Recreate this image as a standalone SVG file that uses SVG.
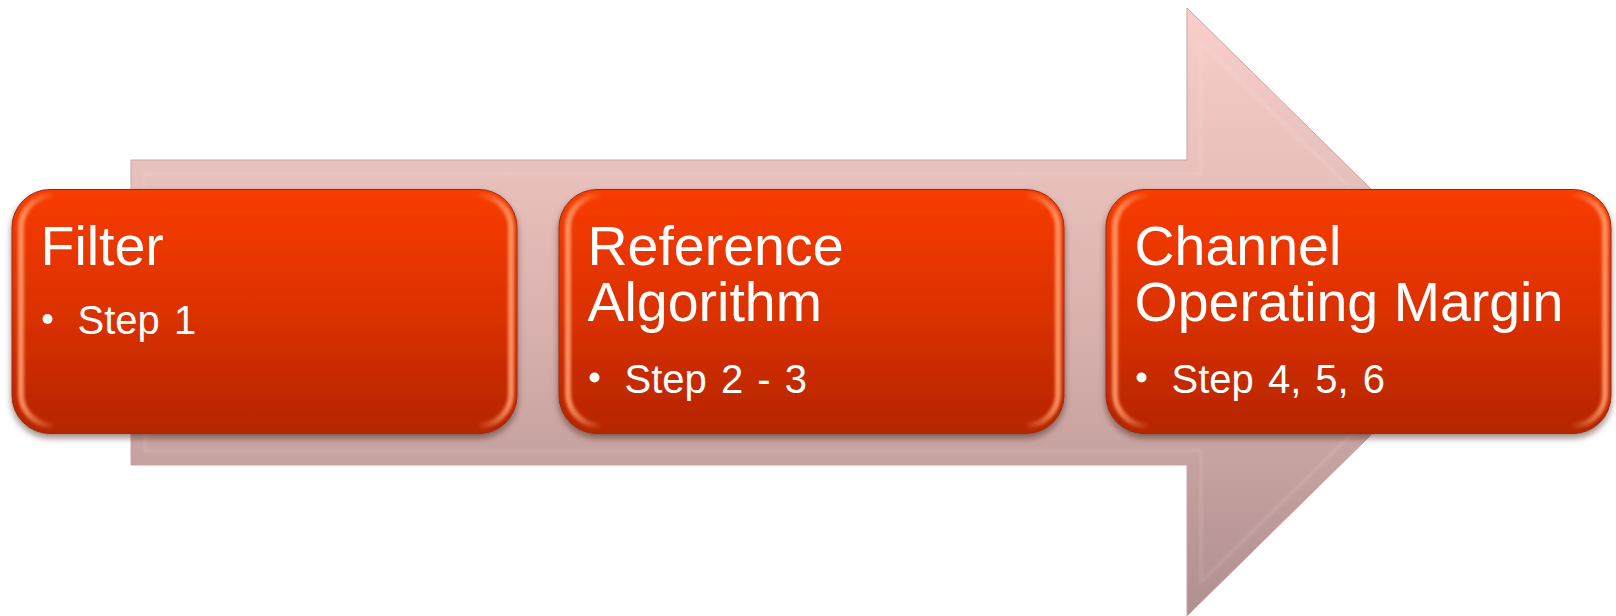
<svg xmlns="http://www.w3.org/2000/svg" width="1616" height="616" viewBox="0 0 1616 616">
<defs>
  <linearGradient id="arrowFill" gradientUnits="userSpaceOnUse" x1="0" y1="8" x2="0" y2="616">
    <stop offset="0" stop-color="#f8cfca"/>
    <stop offset="0.5" stop-color="#dab3af"/>
    <stop offset="1" stop-color="#b08f8f"/>
  </linearGradient>
  <linearGradient id="boxFill" x1="0" y1="0" x2="0" y2="1">
    <stop offset="0" stop-color="#f83c02"/>
    <stop offset="0.5" stop-color="#db3100"/>
    <stop offset="1" stop-color="#b52500"/>
  </linearGradient>
  <linearGradient id="edgeGlow" x1="0" y1="0" x2="1" y2="0">
    <stop offset="0" stop-color="#ff9a6a" stop-opacity="0.9"/>
    <stop offset="0.07" stop-color="#ff9a6a" stop-opacity="0"/>
    <stop offset="0.93" stop-color="#ff9a6a" stop-opacity="0"/>
    <stop offset="1" stop-color="#ff9a6a" stop-opacity="0.9"/>
  </linearGradient>
  <filter id="shadow" x="-5%" y="-5%" width="110%" height="120%">
    <feDropShadow dx="0" dy="4" stdDeviation="3" flood-color="#3a0a00" flood-opacity="0.5"/>
  </filter>
  <filter id="soft" x="-5%" y="-5%" width="110%" height="110%">
    <feGaussianBlur stdDeviation="1.5"/>
  </filter>
  <style>
    .box { fill: url(#boxFill); stroke: #9a2810; stroke-width: 1; filter: url(#shadow); }
    .glow { fill: none; stroke: url(#edgeGlow); stroke-width: 6; filter: url(#soft); }
    .title { font-family: "Liberation Sans", Arial, sans-serif; font-size: 55.5px; fill: #ffffff; }
    .item { font-family: "Liberation Sans", Arial, sans-serif; font-size: 40px; word-spacing: 3px; fill: #ffffff; }
    .dot { fill: #ffffff; }
    .arrow { fill: url(#arrowFill); stroke: #c9a3a0; stroke-width: 1; }
    .bevel { fill: none; stroke: #ffffff; stroke-opacity: 0.12; stroke-width: 3; filter: url(#soft); }
  </style>
</defs>
<rect width="1616" height="616" fill="#ffffff"/>

<g id="connectors">
  <g id="arrow">
    <polygon class="arrow" points="131,160 1187,160 1187,8 1496,312 1187,616 1187,465 131,465"/>
    <polygon class="bevel" points="145,174 1201,174 1201,42 1476,312 1201,582 1201,451 145,451"/>
  </g>
</g>

<g id="node-filter" transform="translate(12,189.5)">
  <rect class="box" width="505" height="244" rx="38"/>
  <rect class="glow" x="9" y="6" width="490" height="230" rx="32"/>
  <text class="title" x="28.5" y="75">Filter</text>
  <circle class="dot" cx="35.5" cy="129.5" r="5"/>
  <text class="item" x="65.5" y="144.5">Step 1</text>
</g>

<g id="node-reference" transform="translate(559,189.5)">
  <rect class="box" width="505" height="244" rx="38"/>
  <rect class="glow" x="9" y="6" width="490" height="230" rx="32"/>
  <text class="title" x="28.5" y="75">Reference</text>
  <text class="title" x="28.5" y="131.5">Algorithm</text>
  <circle class="dot" cx="35.5" cy="188" r="5"/>
  <text class="item" x="65.5" y="203">Step 2 - 3</text>
</g>

<g id="node-com" transform="translate(1106,189.5)">
  <rect class="box" width="505" height="244" rx="38"/>
  <rect class="glow" x="9" y="6" width="490" height="230" rx="32"/>
  <text class="title" x="28.5" y="75">Channel</text>
  <text class="title" x="28.5" y="131.5">Operating Margin</text>
  <circle class="dot" cx="35.5" cy="188" r="5"/>
  <text class="item" x="65.5" y="203">Step 4, 5, 6</text>
</g>
</svg>
